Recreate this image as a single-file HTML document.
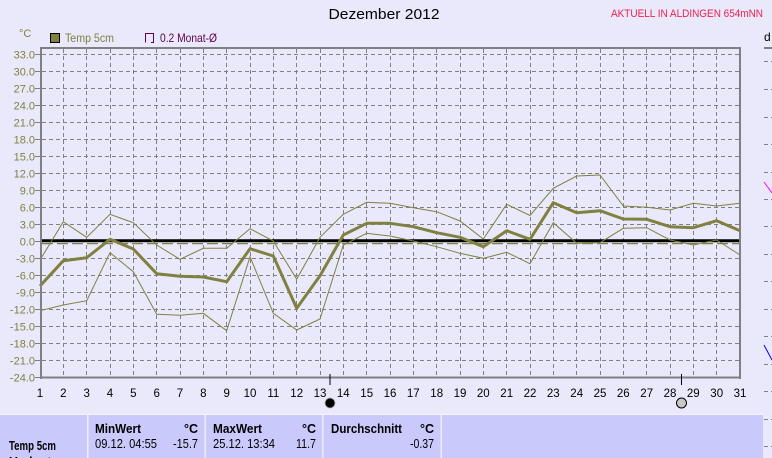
<!DOCTYPE html>
<html><head><meta charset="utf-8"><style>
html,body{margin:0;padding:0;background:#e9e9fb;}
svg{display:block;}
text{font-family:"Liberation Sans",sans-serif;}
</style></head><body>
<svg width="772" height="458" viewBox="0 0 772 458" xmlns="http://www.w3.org/2000/svg">
<rect x="0" y="0" width="772" height="458" fill="#e9e9fb"/>
<!-- title -->
<text x="384" y="19" font-size="14.5" text-anchor="middle" textLength="111" lengthAdjust="spacingAndGlyphs" fill="#000">Dezember 2012</text>
<text x="611" y="17" font-size="11" textLength="152" lengthAdjust="spacingAndGlyphs" fill="#f0204c">AKTUELL IN ALDINGEN 654mNN</text>
<!-- legend -->
<text x="19" y="37" font-size="11" fill="#808040">°C</text>
<rect x="50.5" y="33.5" width="9" height="9" fill="#808040" stroke="#000" stroke-width="1"/>
<text x="65" y="42" font-size="12" textLength="49" lengthAdjust="spacingAndGlyphs" fill="#808040">Temp 5cm</text>
<path d="M145.5,42.5 V33.5 H153.5 V42.5 H151" fill="none" stroke="#600048" stroke-width="1"/>
<text x="160" y="42" font-size="12" textLength="57" lengthAdjust="spacingAndGlyphs" fill="#600048">0.2 Monat-Ø</text>
<!-- right partial -->
<text x="764" y="41" font-size="12" fill="#000">d</text>
<line x1="764" y1="48" x2="772" y2="48" stroke="#808080" stroke-width="2"/>
<g stroke="#808080" stroke-width="1" stroke-dasharray="4,3">
<line x1="764" y1="61.5" x2="772" y2="61.5"/><line x1="764" y1="89.5" x2="772" y2="89.5"/><line x1="764" y1="117.5" x2="772" y2="117.5"/><line x1="764" y1="144.5" x2="772" y2="144.5"/><line x1="764" y1="172.5" x2="772" y2="172.5"/><line x1="764" y1="199.5" x2="772" y2="199.5"/><line x1="764" y1="226.5" x2="772" y2="226.5"/><line x1="764" y1="254.5" x2="772" y2="254.5"/><line x1="764" y1="281.5" x2="772" y2="281.5"/><line x1="764" y1="309.5" x2="772" y2="309.5"/><line x1="764" y1="336.5" x2="772" y2="336.5"/><line x1="764" y1="364.5" x2="772" y2="364.5"/><line x1="764" y1="391.5" x2="772" y2="391.5"/><line x1="764" y1="419.5" x2="772" y2="419.5"/><line x1="764" y1="446.5" x2="772" y2="446.5"/>
</g>
<line x1="764" y1="182" x2="772" y2="193" stroke="#ff00ff" stroke-width="1"/>
<line x1="764" y1="345" x2="772" y2="360" stroke="#0000ff" stroke-width="1"/>
<!-- horizontal grid -->
<g stroke="#808080" stroke-width="1" stroke-dasharray="4,3">
<line x1="42" y1="54.5" x2="739" y2="54.5"/><line x1="42" y1="71.5" x2="739" y2="71.5"/><line x1="42" y1="88.5" x2="739" y2="88.5"/><line x1="42" y1="105.5" x2="739" y2="105.5"/><line x1="42" y1="122.5" x2="739" y2="122.5"/><line x1="42" y1="139.5" x2="739" y2="139.5"/><line x1="42" y1="156.5" x2="739" y2="156.5"/><line x1="42" y1="173.5" x2="739" y2="173.5"/><line x1="42" y1="190.5" x2="739" y2="190.5"/><line x1="42" y1="207.5" x2="739" y2="207.5"/><line x1="42" y1="224.5" x2="739" y2="224.5"/><line x1="42" y1="258.5" x2="739" y2="258.5"/><line x1="42" y1="275.5" x2="739" y2="275.5"/><line x1="42" y1="292.5" x2="739" y2="292.5"/><line x1="42" y1="309.5" x2="739" y2="309.5"/><line x1="42" y1="326.5" x2="739" y2="326.5"/><line x1="42" y1="343.5" x2="739" y2="343.5"/><line x1="42" y1="360.5" x2="739" y2="360.5"/>
</g>
<!-- vertical grid -->
<g stroke="#808080" stroke-width="1" stroke-dasharray="4,3">
<line x1="63.5" y1="49" x2="63.5" y2="377"/><line x1="86.5" y1="49" x2="86.5" y2="377"/><line x1="110.5" y1="49" x2="110.5" y2="377"/><line x1="133.5" y1="49" x2="133.5" y2="377"/><line x1="156.5" y1="49" x2="156.5" y2="377"/><line x1="180.5" y1="49" x2="180.5" y2="377"/><line x1="203.5" y1="49" x2="203.5" y2="377"/><line x1="226.5" y1="49" x2="226.5" y2="377"/><line x1="250.5" y1="49" x2="250.5" y2="377"/><line x1="273.5" y1="49" x2="273.5" y2="377"/><line x1="296.5" y1="49" x2="296.5" y2="377"/><line x1="320.5" y1="49" x2="320.5" y2="377"/><line x1="343.5" y1="49" x2="343.5" y2="377"/><line x1="366.5" y1="49" x2="366.5" y2="377"/><line x1="390.5" y1="49" x2="390.5" y2="377"/><line x1="413.5" y1="49" x2="413.5" y2="377"/><line x1="436.5" y1="49" x2="436.5" y2="377"/><line x1="460.5" y1="49" x2="460.5" y2="377"/><line x1="483.5" y1="49" x2="483.5" y2="377"/><line x1="506.5" y1="49" x2="506.5" y2="377"/><line x1="530.5" y1="49" x2="530.5" y2="377"/><line x1="553.5" y1="49" x2="553.5" y2="377"/><line x1="576.5" y1="49" x2="576.5" y2="377"/><line x1="600.5" y1="49" x2="600.5" y2="377"/><line x1="623.5" y1="49" x2="623.5" y2="377"/><line x1="646.5" y1="49" x2="646.5" y2="377"/><line x1="670.5" y1="49" x2="670.5" y2="377"/><line x1="693.5" y1="49" x2="693.5" y2="377"/><line x1="716.5" y1="49" x2="716.5" y2="377"/>
</g>
<!-- y ticks -->
<g stroke="#808080" stroke-width="1">
<line x1="35" y1="54.5" x2="40" y2="54.5"/><line x1="35" y1="71.5" x2="40" y2="71.5"/><line x1="35" y1="88.5" x2="40" y2="88.5"/><line x1="35" y1="105.5" x2="40" y2="105.5"/><line x1="35" y1="122.5" x2="40" y2="122.5"/><line x1="35" y1="139.5" x2="40" y2="139.5"/><line x1="35" y1="156.5" x2="40" y2="156.5"/><line x1="35" y1="173.5" x2="40" y2="173.5"/><line x1="35" y1="190.5" x2="40" y2="190.5"/><line x1="35" y1="207.5" x2="40" y2="207.5"/><line x1="35" y1="224.5" x2="40" y2="224.5"/><line x1="35" y1="241.5" x2="40" y2="241.5"/><line x1="35" y1="258.5" x2="40" y2="258.5"/><line x1="35" y1="275.5" x2="40" y2="275.5"/><line x1="35" y1="292.5" x2="40" y2="292.5"/><line x1="35" y1="309.5" x2="40" y2="309.5"/><line x1="35" y1="326.5" x2="40" y2="326.5"/><line x1="35" y1="343.5" x2="40" y2="343.5"/><line x1="35" y1="360.5" x2="40" y2="360.5"/><line x1="35" y1="377.5" x2="40" y2="377.5"/>
</g>
<!-- y labels -->
<g font-size="11" fill="#808040" text-anchor="end">
<text x="35" y="58.5">33.0</text><text x="35" y="75.5">30.0</text><text x="35" y="92.5">27.0</text><text x="35" y="109.5">24.0</text><text x="35" y="126.5">21.0</text><text x="35" y="143.5">18.0</text><text x="35" y="160.5">15.0</text><text x="35" y="177.5">12.0</text><text x="35" y="194.5">9.0</text><text x="35" y="211.5">6.0</text><text x="35" y="228.5">3.0</text><text x="35" y="245.5">0.0</text><text x="35" y="262.5">-3.0</text><text x="35" y="279.5">-6.0</text><text x="35" y="296.5">-9.0</text><text x="35" y="313.5">-12.0</text><text x="35" y="330.5">-15.0</text><text x="35" y="347.5">-18.0</text><text x="35" y="364.5">-21.0</text><text x="35" y="381.5">-24.0</text>
</g>
<!-- zero line & average -->
<line x1="42" y1="240.8" x2="739" y2="240.8" stroke="#000" stroke-width="3"/>
<line x1="42" y1="243.6" x2="739" y2="243.6" stroke="#808040" stroke-width="1.3" stroke-dasharray="11,4"/>
<!-- series -->
<polyline fill="none" stroke="#808040" stroke-width="1" points="40,260 63.3,221.7 86.7,237.3 110,214.3 133.3,222.7 156.7,245 180,259.3 203.3,248.3 226.7,248.3 250,228.7 273.3,241 296.7,279.3 320,237.3 343.3,214.3 366.7,202.3 390,203.3 413.3,207.7 436.7,211.7 460,221 483.3,239 506.7,204.3 530,215.5 553.3,188.3 576.7,176 600,175 623.3,206 646.7,207.3 670,210 693.3,203.3 716.7,206 740,203.3"/>
<polyline fill="none" stroke="#808040" stroke-width="1" points="40,310.7 63.3,305 86.7,300.7 110,252.7 133.3,271.7 156.7,314.3 180,315.3 203.3,313.3 226.7,330.7 250,256.7 273.3,313.3 296.7,330 320,319 343.3,245 366.7,233.3 390,236 413.3,241 436.7,246.7 460,253.3 483.3,258.3 506.7,252.3 530,263.7 553.3,222.7 576.7,243.3 600,242.7 623.3,228.3 646.7,227.7 670,240 693.3,245 716.7,240 740,255"/>
<polyline fill="none" stroke="#808040" stroke-width="3" stroke-linejoin="round" points="40,286 63.3,260.7 86.7,257.7 110,239.3 133.3,249 156.7,273.7 180,276.3 203.3,277 226.7,281.7 250,248.7 273.3,256 296.7,308.3 320,275.7 343.3,235 366.7,223.3 390,223.3 413.3,226.7 436.7,232.7 460,237.3 483.3,246.7 506.7,230.7 530,239.3 553.3,202.7 576.7,212.7 600,210.7 623.3,219 646.7,219.3 670,226.7 693.3,227.7 716.7,220.7 740,230.7"/>
<!-- frame -->
<g stroke="#808080" stroke-width="2" fill="none">
<line x1="40" y1="48" x2="741" y2="48"/>
<line x1="740" y1="47" x2="740" y2="379"/>
<line x1="41" y1="47" x2="41" y2="379"/>
<line x1="40" y1="377.5" x2="741" y2="377.5"/>
</g>
<!-- x labels -->
<g font-size="11.5" fill="#000" text-anchor="middle">
<text x="40" y="397">1</text><text x="63.3" y="397">2</text><text x="86.7" y="397">3</text><text x="110" y="397">4</text><text x="133.3" y="397">5</text><text x="156.7" y="397">6</text><text x="180" y="397">7</text><text x="203.3" y="397">8</text><text x="226.7" y="397">9</text><text x="250" y="397">10</text><text x="273.3" y="397">11</text><text x="296.7" y="397">12</text><text x="320" y="397">13</text><text x="343.3" y="397">14</text><text x="366.7" y="397">15</text><text x="390" y="397">16</text><text x="413.3" y="397">17</text><text x="436.7" y="397">18</text><text x="460" y="397">19</text><text x="483.3" y="397">20</text><text x="506.7" y="397">21</text><text x="530" y="397">22</text><text x="553.3" y="397">23</text><text x="576.7" y="397">24</text><text x="600" y="397">25</text><text x="623.3" y="397">26</text><text x="646.7" y="397">27</text><text x="670" y="397">28</text><text x="693.3" y="397">29</text><text x="716.7" y="397">30</text><text x="740" y="397">31</text>
</g>
<!-- moon markers -->
<line x1="330" y1="374" x2="330" y2="385" stroke="#000" stroke-width="1"/>
<circle cx="330" cy="403" r="5" fill="#000" stroke="#b0b0b0" stroke-width="0.8"/>
<line x1="681.5" y1="374" x2="681.5" y2="385" stroke="#000" stroke-width="1"/>
<circle cx="681.5" cy="403" r="5" fill="#c8c8c8" stroke="#000" stroke-width="1"/>
<!-- table -->
<rect x="0" y="414" width="763" height="1" fill="#f4f4ff"/>
<rect x="0" y="415" width="763" height="43" fill="#c9c9fb"/>
<g fill="#eeeeff">
<rect x="87" y="415" width="1.5" height="43"/>
<rect x="204.5" y="415" width="1.5" height="43"/>
<rect x="322" y="415" width="1.5" height="43"/>
<rect x="440.5" y="415" width="1.5" height="43"/>
</g>
<g font-size="12.5" fill="#000">
<text x="9" y="450" font-weight="bold" textLength="47" lengthAdjust="spacingAndGlyphs">Temp 5cm</text>
<text x="9" y="466" font-weight="bold">Umlaut</text>
<text x="95" y="433" font-weight="bold" textLength="46" lengthAdjust="spacingAndGlyphs">MinWert</text>
<text x="198" y="433" font-weight="bold" text-anchor="end">°C</text>
<text x="95" y="448" textLength="62" lengthAdjust="spacingAndGlyphs">09.12.  04:55</text>
<text x="198" y="448" text-anchor="end" textLength="25" lengthAdjust="spacingAndGlyphs">-15.7</text>
<text x="213" y="433" font-weight="bold" textLength="49" lengthAdjust="spacingAndGlyphs">MaxWert</text>
<text x="316" y="433" font-weight="bold" text-anchor="end">°C</text>
<text x="213" y="448" textLength="62" lengthAdjust="spacingAndGlyphs">25.12.  13:34</text>
<text x="316" y="448" text-anchor="end" textLength="20" lengthAdjust="spacingAndGlyphs">11.7</text>
<text x="331" y="433" font-weight="bold" textLength="71" lengthAdjust="spacingAndGlyphs">Durchschnitt</text>
<text x="434" y="433" font-weight="bold" text-anchor="end">°C</text>
<text x="434" y="448" text-anchor="end" textLength="24" lengthAdjust="spacingAndGlyphs">-0.37</text>
</g>
</svg>
</body></html>
